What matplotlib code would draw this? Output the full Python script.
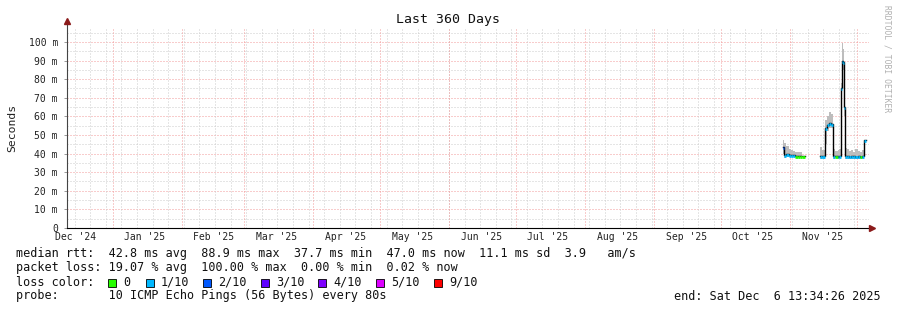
import numpy as np
import matplotlib
matplotlib.use("Agg")
import matplotlib.pyplot as plt
import matplotlib.dates as mdates
from datetime import datetime, timedelta

W, H = 897, 310

end_time = datetime(2025, 12, 6, 13, 34, 26)
start_time = end_time - timedelta(days=360)

# smokeping samples (consolidated), values in ms, None = no data
times = [
    "2025-10-29 00:00", "2025-10-29 12:00", "2025-10-30 12:00", "2025-10-31 12:00",
    "2025-11-01 12:00", "2025-11-02 12:00", "2025-11-03 12:00", "2025-11-04 12:00",
    "2025-11-05 12:00", "2025-11-06 12:00", "2025-11-07 18:00",
    "2025-11-14 12:00", "2025-11-15 12:00", "2025-11-17 00:00", "2025-11-17 18:00",
    "2025-11-18 12:00", "2025-11-19 12:00", "2025-11-20 06:00", "2025-11-21 12:00",
    "2025-11-22 12:00", "2025-11-23 06:00", "2025-11-23 20:00", "2025-11-24 06:00",
    "2025-11-24 18:00", "2025-11-25 06:00", "2025-11-25 12:00", "2025-11-25 18:00",
    "2025-11-26 12:00", "2025-11-27 12:00", "2025-11-28 12:00", "2025-11-29 12:00",
    "2025-11-30 12:00", "2025-12-01 12:00", "2025-12-02 12:00", "2025-12-03 12:00",
    "2025-12-04 05:00", "2025-12-04 12:00", "2025-12-05 06:00",
]
median_ms = [
    43.5, 39.0, 39.8, 39.3, 39.2, 39.0, 38.8, 38.8, 38.8, 38.8, None,
    38.7, 38.5, 53.5, 55.5, 56.5, 56.0, 38.5, 38.6, 38.4, 38.8, 75.0, 89.5,
    89.0, 88.0, 65.0, 38.6, 38.5, 38.4, 38.6, 38.5, 38.3, 38.5, 38.4, 38.6,
    44.0, 47.3, None,
]
smoke_lo = [
    40.0, 37.5, 38.0, 38.0, 38.0, 38.0, 38.0, 38.0, 38.0, 38.0, None,
    37.3, 37.3, 45.0, 52.0, 54.0, 53.5, 37.3, 37.5, 37.3, 37.5, 60.0, 86.0,
    85.0, 70.0, 60.0, 37.0, 37.2, 37.0, 37.3, 37.2, 37.0, 37.2, 37.0, 37.3,
    40.0, 44.0, None,
]
smoke_hi = [
    47.5, 45.5, 44.0, 42.5, 42.0, 41.5, 41.0, 41.0, 40.8, 40.8, None,
    43.5, 42.0, 58.0, 60.0, 62.5, 61.0, 42.5, 41.5, 42.0, 42.5, 78.0, 99.5,
    96.0, 92.0, 73.0, 43.0, 42.5, 41.5, 42.0, 41.0, 42.5, 41.5, 41.0, 42.0,
    47.0, 52.0, None,
]
loss_idx = [
    2, 1, 1, 1, 1, 1, 0, 0, 0, 0, 0,
    1, 1, 1, 1, 1, 1, 1, 0, 1, 1, 1, 1,
    1, 1, 1, 1, 1, 1, 1, 1, 1, 1, 0, 1,
    1, 1, 0,
]

loss_labels = ["0", "1/10", "2/10", "3/10", "4/10", "5/10", "9/10"]
loss_colors = ["#26ff00", "#00b8ff", "#0059ff", "#5e00ff", "#7e00ff", "#dd00ff", "#ff0000"]
loss_box_x = [109, 147, 204, 262, 319, 377, 435]

month_labels = ["Dec '24", "Jan '25", "Feb '25", "Mar '25", "Apr '25", "May '25",
                "Jun '25", "Jul '25", "Aug '25", "Sep '25", "Oct '25", "Nov '25"]
y_ticks = [0, 10, 20, 30, 40, 50, 60, 70, 80, 90, 100]
y_labels = ["0"] + [f"{v} m" for v in y_ticks[1:]]

line_rtt = "median rtt:  42.8 ms avg  88.9 ms max  37.7 ms min  47.0 ms now  11.1 ms sd  3.9   am/s"
line_loss = "packet loss: 19.07 % avg  100.00 % max  0.00 % min  0.02 % now"
line_probe = "probe:       10 ICMP Echo Pings (56 Bytes) every 80s"
line_end = "end: Sat Dec  6 13:34:26 2025"

MONO = "DejaVu Sans Mono"
plt.rcParams["font.family"] = MONO

t = [datetime.strptime(s, "%Y-%m-%d %H:%M") for s in times]
tn = mdates.date2num(t)
med = np.array([np.nan if v is None else v for v in median_ms])
lo = np.array([np.nan if v is None else v for v in smoke_lo])
hi = np.array([np.nan if v is None else v for v in smoke_hi])

fig = plt.figure(figsize=(W / 100, H / 100), dpi=100)
fig.patch.set_facecolor("white")
L, R, B, T = 67, 869, 228, 27
ax = fig.add_axes([L / W, 1 - B / H, (R - L) / W, (B - T) / H])
ymax = 108
ax.set_xlim(mdates.date2num(start_time), mdates.date2num(end_time))
ax.set_ylim(0, ymax)
for s in ax.spines.values():
    s.set_visible(False)

# grid
minor_c, major_c = "#cccccc", "#f29a9a"
dash = (0, (1, 2))
for v in np.arange(5, ymax, 5):
    ax.axhline(v, color=major_c if v % 10 == 0 else minor_c, lw=0.72, ls=dash, zorder=0)
d = datetime(start_time.year, start_time.month, start_time.day)
while d < end_time:
    if d.weekday() == 6 and d > start_time:
        ax.axvline(mdates.date2num(d), color=minor_c, lw=0.72, ls=dash, zorder=0)
    d += timedelta(days=1)
months = []
y, m = 2025, 1
while datetime(y, m, 1) < end_time:
    months.append(datetime(y, m, 1))
    m += 1
    if m > 12:
        y, m = y + 1, 1
for md in months:
    ax.axvline(mdates.date2num(md), color=major_c, lw=0.72, ls=dash, zorder=0.5)

# smoke, median line and loss coloured median
ax.fill_between(tn, lo, hi, step="post", color="#bdbdbd", lw=0, zorder=1)
ax.step(tn, med, where="post", color="black", lw=1.0, zorder=2)
for i in range(len(tn) - 1):
    if not np.isnan(med[i]):
        ax.hlines(med[i] - 0.4, tn[i], tn[i + 1], color=loss_colors[loss_idx[i]], lw=2.0, zorder=3)

# axes with arrows
ax.plot([0, 0], [0, 1.025], transform=ax.transAxes, color="#444444", lw=0.8, clip_on=False, zorder=4)
ax.plot([0, 1.003], [0, 0], transform=ax.transAxes, color="black", lw=0.8, clip_on=False, zorder=4)
ax.plot([0], [1.03], marker="^", ms=4, color="#8b1a1a", transform=ax.transAxes, clip_on=False, zorder=5)
ax.plot([1.004], [0], marker=">", ms=4, color="#8b1a1a", transform=ax.transAxes, clip_on=False, zorder=5)

ax.set_yticks(y_ticks)
ax.set_yticklabels(y_labels, fontsize=7)
ax.tick_params(axis="y", length=2.5, width=0.6, color="#888888", pad=4, labelcolor="#222222")
ax.set_xticks([])
for i, lab in enumerate(month_labels):
    md = datetime(2024, 12, 15, 12) if i == 0 else datetime(2025, i, 15, 12)
    ax.text(mdates.date2num(md), -0.045, lab, transform=ax.get_xaxis_transform(),
            ha="center", va="center", fontsize=7, color="#222222")

ax.set_ylabel("Seconds", fontsize=8.2, labelpad=8, color="#222222")
fig.text(448 / W, 1 - 19 / H, "Last 360 Days", ha="center", va="center", fontsize=9.5, color="#111111")
fig.text(887 / W, 1 - 5 / H, "RRDTOOL / TOBI OETIKER", rotation=270, ha="center", va="top",
         fontsize=5.8, color="#b0b0b0")

fs = 8.45
fig.text(16 / W, 1 - 254 / H, line_rtt, ha="left", va="center", fontsize=fs, color="#111111")
fig.text(16 / W, 1 - 268 / H, line_loss, ha="left", va="center", fontsize=fs, color="#111111")
fig.text(16 / W, 1 - 282 / H, "loss color:", ha="left", va="center", fontsize=fs, color="#111111")
for bx, c, lab in zip(loss_box_x, loss_colors, loss_labels):
    fig.patches.append(plt.Rectangle(((bx - 1) / W, 1 - 286.5 / H), 8 / W, 8 / H, transform=fig.transFigure,
                                     facecolor=c, edgecolor="black", lw=0.6))
    fig.text((bx + 14) / W, 1 - 282 / H, lab, ha="left", va="center", fontsize=fs, color="#111111")
fig.text(16 / W, 1 - 296 / H, line_probe, ha="left", va="center", fontsize=fs, color="#111111")
fig.text(881 / W, 1 - 296 / H, line_end, ha="right", va="center", fontsize=fs, color="#111111")

fig.savefig("out.png", dpi=100, facecolor="white")
